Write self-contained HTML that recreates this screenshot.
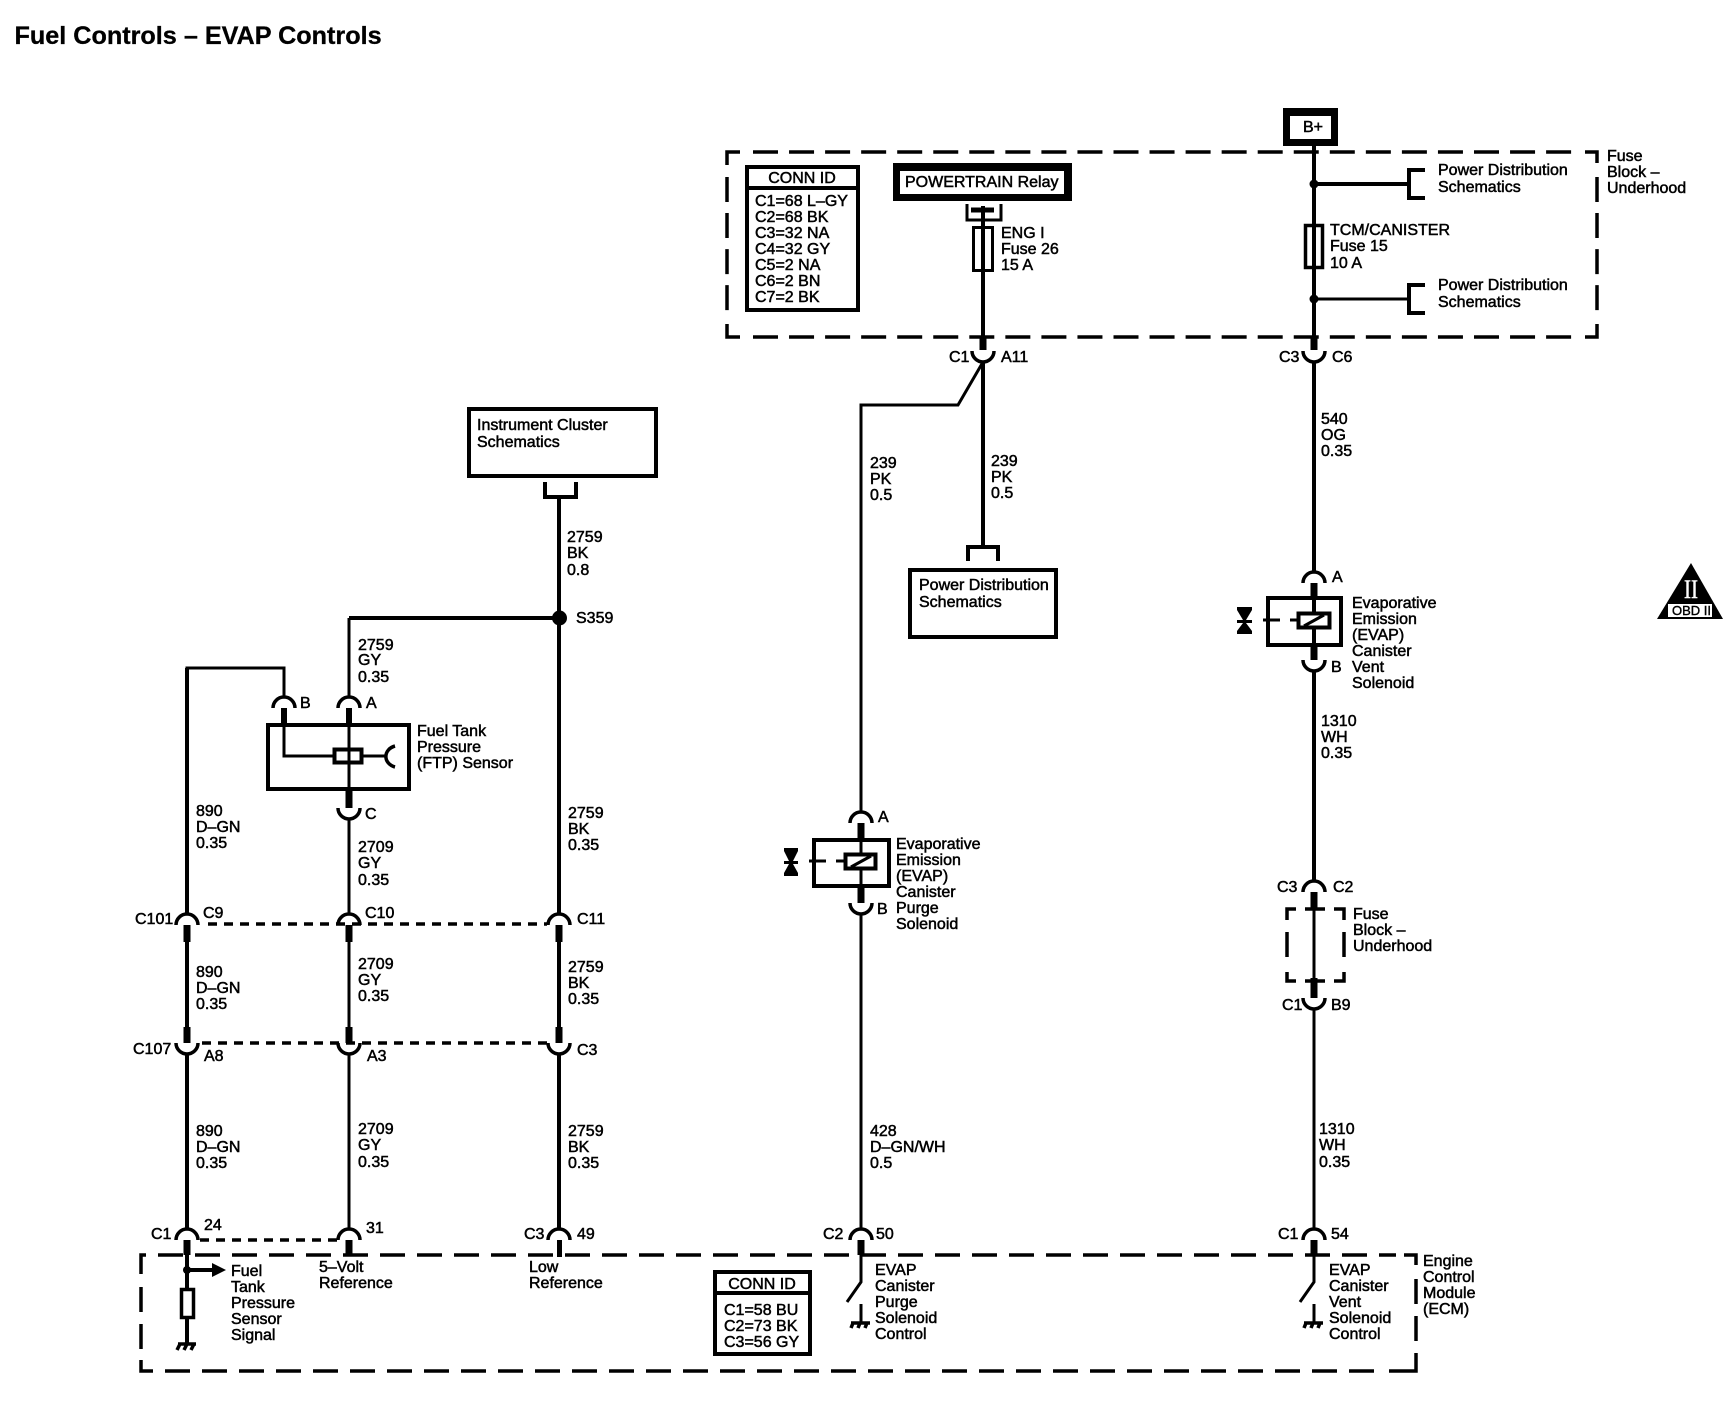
<!DOCTYPE html>
<html><head><meta charset="utf-8"><title>Fuel Controls – EVAP Controls</title>
<style>
html,body{margin:0;padding:0;background:#fff}
svg{display:block}
text{font-family:"Liberation Sans",sans-serif;font-size:16px;fill:#000;stroke:#000;stroke-width:.5px}
.l{fill:none;stroke:#000;stroke-width:3}
.m{fill:none;stroke:#000;stroke-width:4}
.s{fill:none;stroke:#000;stroke-width:7}
.a{fill:none;stroke:#000;stroke-width:3.5}
.d{fill:none;stroke:#000;stroke-width:3.5;stroke-dasharray:9 7}
.t{fill:none;stroke:#000;stroke-width:3.5;stroke-dasharray:25 11.05}
.b{fill:none;stroke:#000;stroke-width:3.5;stroke-dasharray:25 12}
.x{fill:none;stroke:#000;stroke-width:4}
</style></head><body>
<svg xmlns="http://www.w3.org/2000/svg" width="1734" height="1408" viewBox="0 0 1734 1408">
<rect width="1734" height="1408" fill="#fff"/>
<text x="14.500" y="44" style="font-size:25.2px;font-weight:bold;stroke-width:.3px">Fuel Controls – EVAP Controls</text>

<!-- Fuse block box -->
<path class="l" style="stroke-width:3.5" d="M740 152H727V165M727 324V337H740M1585 152H1597V163M1597 324V337H1585"/>
<path class="t" d="M753 152H1575M753 337H1575"/>
<path class="t" d="M727 177V315M1597 177V315"/>

<!-- ECM box -->
<path class="l" style="stroke-width:3.5" d="M141 1274V1255H146M141 1360V1371H153M1404 1255H1416V1265M1416 1353V1371H1389"/>
<path class="b" d="M158 1255H1396M165 1371H1385"/>
<path class="b" d="M141 1287V1350M1416 1279V1345"/>

<!-- Conn ID top -->
<rect class="x" x="747" y="167" width="111" height="143"/>
<path class="x" d="M746 188H858"/>
<text x="802" y="183" text-anchor="middle">CONN ID</text>
<text x="755" y="206">C1=68 L–GY</text>
<text x="755" y="222">C2=68 BK</text>
<text x="755" y="238">C3=32 NA</text>
<text x="755" y="254">C4=32 GY</text>
<text x="755" y="270">C5=2 NA</text>
<text x="755" y="286">C6=2 BN</text>
<text x="755" y="302">C7=2 BK</text>

<!-- Powertrain relay -->
<rect x="893" y="163" width="179" height="38" fill="#000"/>
<rect x="900" y="171" width="164" height="23" fill="#fff"/>
<text x="905" y="187">POWERTRAIN Relay</text>
<path class="l" d="M967 204V220H1001V204"/>
<path d="M971 210H994" fill="none" stroke="#000" stroke-width="5"/>
<path class="m" d="M983 206V337"/>
<rect class="l" x="973.500" y="227.500" width="19" height="43"/>
<text x="1001" y="238">ENG I</text>
<text x="1001" y="254">Fuse 26</text>
<text x="1001" y="270">15 A</text>
<path class="s" d="M983 337V350"/>
<path class="a" d="M972 351A11 11 0 0 0 994 351"/>
<text x="949" y="362">C1</text>
<text x="1001" y="362">A11</text>

<!-- 239 branches -->
<path class="m" d="M983 362V546"/>
<path class="l" d="M983 362L958 405H861V812"/>
<text x="870" y="468">239</text><text x="870" y="484">PK</text><text x="870" y="500">0.5</text>
<text x="991" y="466">239</text><text x="991" y="482">PK</text><text x="991" y="498">0.5</text>
<path class="m" d="M968 561V547H998V561"/>
<rect class="x" x="910" y="570" width="146" height="67"/>
<text x="919" y="590">Power Distribution</text>
<text x="919" y="607">Schematics</text>

<!-- B+ -->
<rect x="1283" y="108" width="55" height="38" fill="#000"/>
<rect x="1290" y="116" width="41" height="23" fill="#fff"/>
<text x="1303" y="132">B+</text>
<path class="m" d="M1314 146V337"/>
<circle cx="1314" cy="184" r="4.500"/>
<circle cx="1314" cy="299" r="4.500"/>
<path class="m" d="M1314 184H1408"/>
<path class="l" d="M1314 299H1408"/>
<path class="m" d="M1425 170H1409V198H1425M1425 285H1409V313H1425"/>
<text x="1438" y="175">Power Distribution</text><text x="1438" y="192">Schematics</text>
<text x="1438" y="290">Power Distribution</text><text x="1438" y="307">Schematics</text>
<rect x="1305.500" y="225.500" width="17" height="42" fill="#fff" stroke="#000" stroke-width="3.500"/>
<path class="m" d="M1314 224V268"/>
<text x="1330" y="235">TCM/CANISTER</text><text x="1330" y="251">Fuse 15</text><text x="1330" y="268">10 A</text>
<text x="1607" y="161">Fuse</text><text x="1607" y="177">Block –</text><text x="1607" y="193">Underhood</text>
<path class="s" d="M1314 337V350"/>
<path class="a" d="M1303 351A11 11 0 0 0 1325 351"/>
<text x="1279" y="362">C3</text><text x="1332" y="362">C6</text>
<path class="m" d="M1314 362V572"/>
<text x="1321" y="424">540</text><text x="1321" y="440">OG</text><text x="1321" y="456">0.35</text>

<!-- Vent solenoid -->
<path class="a" d="M1303 583A11 11 0 0 1 1325 583"/>
<path class="s" d="M1314 583V597"/>
<rect class="m" x="1268" y="598" width="73" height="47"/>
<path class="m" d="M1314 597V646"/>
<rect x="1298.500" y="613.500" width="31" height="14" fill="#fff" stroke="#000" stroke-width="4"/>
<path class="l" d="M1304 626L1324 615"/>
<path class="l" d="M1263 620H1280M1290 620H1298"/>
<path d="M1237 607H1252V610L1246 620H1252V623H1246L1252 631V634H1237V631L1243 623H1237V620H1243L1237 610Z"/>
<path class="s" d="M1314 646V660"/>
<path class="a" d="M1303 660A11 11 0 0 0 1325 660"/>
<text x="1332" y="582">A</text><text x="1331" y="672">B</text>
<text x="1352" y="608">Evaporative</text><text x="1352" y="624">Emission</text><text x="1352" y="640">(EVAP)</text><text x="1352" y="656">Canister</text><text x="1352" y="672">Vent</text><text x="1352" y="688">Solenoid</text>
<path class="m" d="M1314 671V881"/>
<text x="1321" y="726">1310</text><text x="1321" y="742">WH</text><text x="1321" y="758">0.35</text>

<!-- Fuse block small -->
<path class="a" d="M1303 892A11 11 0 0 1 1325 892"/>
<path class="s" d="M1314 892V910"/>
<path class="l" d="M1314 910V978"/>
<path class="s" d="M1314 978V998"/>
<path class="a" d="M1303 998A11 11 0 0 0 1325 998"/>
<path class="l" style="stroke-width:3.5" d="M1296 909H1287V920M1287 932V957M1287 972V981H1296M1305 909H1325M1305 981H1325M1334 909H1344V920M1344 932V957M1344 972V981H1334"/>
<text x="1277" y="892">C3</text><text x="1333" y="892">C2</text>
<text x="1282" y="1010">C1</text><text x="1331" y="1010">B9</text>
<text x="1353" y="919">Fuse</text><text x="1353" y="935">Block –</text><text x="1353" y="951">Underhood</text>
<path class="l" d="M1314 1008V1228"/>
<text x="1319" y="1134">1310</text><text x="1319" y="1150">WH</text><text x="1319" y="1167">0.35</text>

<!-- Purge solenoid -->
<path class="a" d="M850 823A11 11 0 0 1 872 823"/>
<path class="s" d="M861 823V838"/>
<rect class="m" x="814" y="840" width="75" height="46"/>
<path class="l" d="M861 838V887"/>
<rect x="845.500" y="854.500" width="30" height="14" fill="#fff" stroke="#000" stroke-width="4"/>
<path class="l" d="M851 867L871 856"/>
<path class="l" d="M809 861H826M836 861H846"/>
<path d="M784 848H798V851L793 861H798V864H793L798 873V876H784V873L789 864H784V861H789L784 851Z"/>
<path class="s" d="M861 887V903"/>
<path class="a" d="M850 903A11 11 0 0 0 872 903"/>
<text x="878" y="822">A</text><text x="877" y="914">B</text>
<text x="896" y="849">Evaporative</text><text x="896" y="865">Emission</text><text x="896" y="881">(EVAP)</text><text x="896" y="897">Canister</text><text x="896" y="913">Purge</text><text x="896" y="929">Solenoid</text>
<path class="l" d="M861 914V1228"/>
<text x="870" y="1136">428</text><text x="870" y="1152">D–GN/WH</text><text x="870" y="1168">0.5</text>

<!-- Instrument cluster -->
<rect class="x" x="469" y="409" width="187" height="67"/>
<text x="477" y="430">Instrument Cluster</text><text x="477" y="447">Schematics</text>
<path class="m" d="M545 482V497H576V482"/>
<path class="m" d="M559 497V914"/>
<circle cx="559.500" cy="618" r="7.500"/>
<path class="m" d="M559 618H349"/>
<path class="l" d="M349 618V697"/>
<text x="576" y="623">S359</text>
<text x="567" y="542">2759</text><text x="567" y="558">BK</text><text x="567" y="575">0.8</text>
<text x="358" y="650">2759</text><text x="358" y="665">GY</text><text x="358" y="682">0.35</text>

<!-- FTP sensor -->
<path class="l" d="M187 914V668H284V697"/>
<path class="m" d="M187 668V914"/>
<path class="a" d="M273 708A11 11 0 0 1 295 708"/>
<path class="a" d="M338 708A11 11 0 0 1 360 708"/>
<path d="M281 708H287V724H281ZM346 708H352V724H346Z"/>
<rect class="x" x="268" y="725" width="141" height="64"/>
<path class="l" d="M284 724V756H333M349 724V790M363 756H386"/>
<rect class="x" x="334.500" y="749.500" width="27" height="13" fill="#fff"/>
<path class="a" d="M395 746A13 11 0 0 0 395 767"/>
<path class="s" d="M349 790V808"/>
<path class="a" d="M338 808A11 11 0 0 0 360 808"/>
<path class="l" d="M349 818V914"/>
<text x="300" y="708">B</text><text x="366" y="708">A</text><text x="365" y="819">C</text>
<text x="417" y="736">Fuel Tank</text><text x="417" y="752">Pressure</text><text x="417" y="768">(FTP) Sensor</text>
<text x="196" y="816">890</text><text x="196" y="832">D–GN</text><text x="196" y="848">0.35</text>
<text x="358" y="852">2709</text><text x="358" y="868">GY</text><text x="358" y="885">0.35</text>
<text x="568" y="818">2759</text><text x="568" y="834">BK</text><text x="568" y="850">0.35</text>

<!-- C101 row -->
<path class="a" d="M176 925A11 11 0 0 1 198 925"/>
<path class="a" d="M338 925A11 11 0 0 1 360 925"/>
<path class="a" d="M548 925A11 11 0 0 1 570 925"/>
<path class="d" d="M208 924H547"/>
<path class="s" d="M187 925V942M349 925V942M559 925V942"/>
<path class="m" d="M187 942V1027M559 942V1027"/>
<path class="l" d="M349 942V1027"/>
<path class="s" d="M187 1027V1043M349 1027V1043M559 1027V1043"/>
<path class="d" d="M202 1043H547"/>
<path class="a" d="M176 1043A11 11 0 0 0 198 1043"/>
<path class="a" d="M338 1043A11 11 0 0 0 360 1043"/>
<path class="a" d="M548 1043A11 11 0 0 0 570 1043"/>
<text x="135" y="924">C101</text><text x="203" y="918">C9</text><text x="365" y="918">C10</text><text x="577" y="924">C11</text>
<text x="196" y="977">890</text><text x="196" y="993">D–GN</text><text x="196" y="1009">0.35</text>
<text x="358" y="969">2709</text><text x="358" y="985">GY</text><text x="358" y="1001">0.35</text>
<text x="568" y="972">2759</text><text x="568" y="988">BK</text><text x="568" y="1004">0.35</text>
<text x="133" y="1054">C107</text><text x="204" y="1061">A8</text><text x="367" y="1061">A3</text><text x="577" y="1055">C3</text>
<path class="m" d="M187 1054V1228M559 1054V1228"/>
<path class="l" d="M349 1054V1228"/>
<text x="196" y="1136">890</text><text x="196" y="1152">D–GN</text><text x="196" y="1168">0.35</text>
<text x="358" y="1134">2709</text><text x="358" y="1150">GY</text><text x="358" y="1167">0.35</text>
<text x="568" y="1136">2759</text><text x="568" y="1152">BK</text><text x="568" y="1168">0.35</text>

<!-- ECM connectors -->
<path class="a" d="M176 1240A11 11 0 0 1 198 1240"/>
<path class="a" d="M338 1240A11 11 0 0 1 360 1240"/>
<path class="a" d="M548 1240A11 11 0 0 1 570 1240"/>
<path class="a" d="M850 1240A11 11 0 0 1 872 1240"/>
<path class="a" d="M1303 1240A11 11 0 0 1 1325 1240"/>
<path class="d" d="M200 1240H337"/>
<path class="s" d="M187 1240V1255M349 1240V1255M861 1240V1255M1314 1240V1255"/>
<path d="M557 1240H562V1257H557Z"/>
<text x="151" y="1239">C1</text><text x="204" y="1230">24</text><text x="366" y="1233">31</text>
<text x="524" y="1239">C3</text><text x="577" y="1239">49</text>
<text x="823" y="1239">C2</text><text x="876" y="1239">50</text>
<text x="1278" y="1239">C1</text><text x="1331" y="1239">54</text>

<!-- ECM left -->
<path class="m" d="M187 1255V1343"/>
<circle cx="187" cy="1270" r="4"/>
<path class="m" d="M187 1270H213"/>
<path d="M212 1263L226 1270L212 1277Z"/>
<rect x="181.500" y="1289.500" width="12" height="28" fill="#fff" stroke="#000" stroke-width="3.500"/>
<path class="a" d="M178 1344H196M180 1344L177 1350M187 1344L184 1350M194 1344L191 1350"/>
<text x="231" y="1276">Fuel</text><text x="231" y="1292">Tank</text><text x="231" y="1308">Pressure</text><text x="231" y="1324">Sensor</text><text x="231" y="1340">Signal</text>
<text x="319" y="1272">5–Volt</text><text x="319" y="1288">Reference</text>
<text x="529" y="1272">Low</text><text x="529" y="1288">Reference</text>

<!-- Conn ID bottom -->
<rect class="x" x="715" y="1272" width="95" height="82"/>
<path class="x" d="M714 1293H811"/>
<text x="762" y="1289" text-anchor="middle">CONN ID</text>
<text x="724" y="1315">C1=58 BU</text><text x="724" y="1331">C2=73 BK</text><text x="724" y="1347">C3=56 GY</text>

<!-- Switches -->
<path class="l" d="M861 1255V1282L847 1302M861 1304V1323"/>
<path class="a" d="M851 1323H870M853 1323L851 1328M860 1323L858 1328M867 1323L865 1328"/>
<path class="l" d="M1314 1255V1282L1300 1302M1314 1304V1323"/>
<path class="a" d="M1304 1323H1323M1306 1323L1304 1328M1313 1323L1311 1328M1320 1323L1318 1328"/>
<text x="875" y="1275">EVAP</text><text x="875" y="1291">Canister</text><text x="875" y="1307">Purge</text><text x="875" y="1323">Solenoid</text><text x="875" y="1339">Control</text>
<text x="1329" y="1275">EVAP</text><text x="1329" y="1291">Canister</text><text x="1329" y="1307">Vent</text><text x="1329" y="1323">Solenoid</text><text x="1329" y="1339">Control</text>
<text x="1423" y="1266">Engine</text><text x="1423" y="1282">Control</text><text x="1423" y="1298">Module</text><text x="1423" y="1314">(ECM)</text>

<!-- OBD II -->
<path d="M1691 563L1723 619H1657Z"/>
<rect x="1668" y="604" width="44" height="13" fill="#fff"/>
<text x="1672" y="615" style="font-size:13px;stroke-width:.4px">OBD II</text>
<text x="1684" y="598" textLength="14" lengthAdjust="spacingAndGlyphs" style="font-family:'Liberation Serif',serif;font-size:26px;fill:#fff;stroke:#fff;stroke-width:.5px">II</text>
</svg>
</body></html>
